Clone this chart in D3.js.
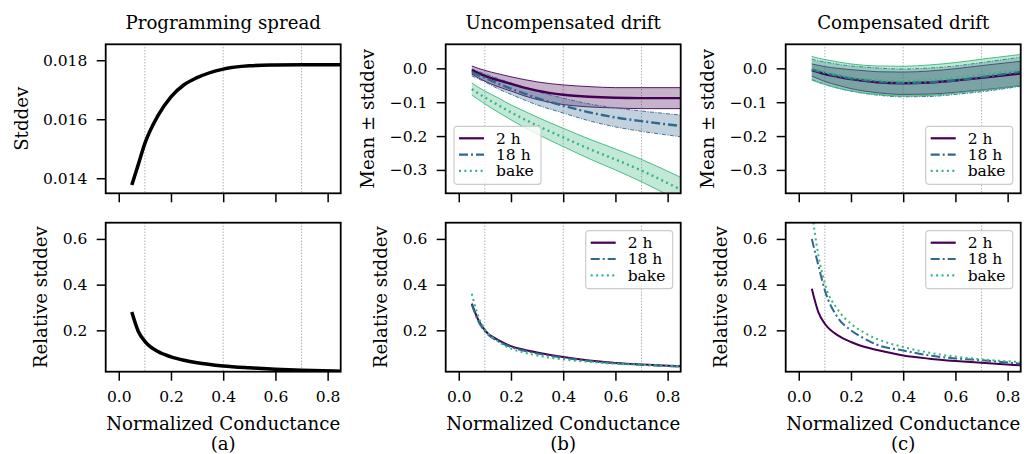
<!DOCTYPE html>
<html>
<head>
<meta charset="utf-8">
<script src="https://cdn.jsdelivr.net/npm/d3@7"></script>
<style>
  body { margin: 0; background: #fff; }
</style>
</head>
<body>
<div id="chart"></div>
<script>
// conductance sample points shared by every curve
const xs = [0.05, 0.075, 0.1, 0.15, 0.2, 0.25, 0.3, 0.4, 0.5, 0.6, 0.7, 0.85];

// (a) programming spread
const progStd = [0.01377, 0.01447, 0.01518, 0.01612, 0.01676, 0.01717, 0.01741, 0.01770, 0.01781, 0.01784, 0.01785, 0.01785];
const progRel = [0.280, 0.195, 0.152, 0.107, 0.084, 0.069, 0.058, 0.044, 0.036, 0.030, 0.0255, 0.021];

// (b) uncompensated drift, mean and stddev
const uncMean2h   = [-0.005, -0.014, -0.022, -0.035, -0.046, -0.057, -0.066, -0.078, -0.084, -0.087, -0.088, -0.088];
const uncStd2h    = [0.012, 0.014, 0.016, 0.019, 0.021, 0.024, 0.026, 0.029, 0.030, 0.030, 0.031, 0.031];
const uncMean18h  = [-0.012, -0.020, -0.028, -0.045, -0.060, -0.074, -0.088, -0.110, -0.130, -0.145, -0.156, -0.170];
const uncStd18h   = [0.010, 0.011, 0.012, 0.015, 0.017, 0.019, 0.020, 0.022, 0.025, 0.028, 0.030, 0.032];
const uncMeanBake = [-0.061, -0.074, -0.086, -0.108, -0.130, -0.150, -0.169, -0.204, -0.238, -0.269, -0.302, -0.358];
const uncStdBake  = [0.018, 0.018, 0.019, 0.021, 0.022, 0.024, 0.025, 0.027, 0.029, 0.031, 0.033, 0.036];
const uncRel2h    = [0.317, 0.245, 0.200, 0.158, 0.131, 0.115, 0.103, 0.083, 0.068, 0.057, 0.050, 0.043];
const uncRel18h   = [0.312, 0.240, 0.196, 0.153, 0.127, 0.111, 0.099, 0.080, 0.066, 0.056, 0.049, 0.041];
const uncRelBake  = [0.360, 0.260, 0.205, 0.152, 0.120, 0.103, 0.090, 0.073, 0.062, 0.054, 0.049, 0.044];

// (c) compensated drift
const cmpMean2h   = [-0.005, -0.011, -0.017, -0.025, -0.032, -0.037, -0.041, -0.044, -0.042, -0.036, -0.028, -0.015];
const cmpStd2h    = [0.018, 0.020, 0.022, 0.025, 0.028, 0.030, 0.031, 0.033, 0.034, 0.035, 0.036, 0.036];
const cmpMean18h  = [-0.003, -0.009, -0.014, -0.023, -0.030, -0.035, -0.039, -0.043, -0.041, -0.035, -0.026, -0.010];
const cmpStd18h   = [0.030, 0.031, 0.033, 0.035, 0.037, 0.039, 0.040, 0.041, 0.042, 0.042, 0.043, 0.043];
const cmpMeanBake = [0.000, -0.006, -0.011, -0.020, -0.027, -0.032, -0.035, -0.038, -0.035, -0.028, -0.019, -0.005];
const cmpStdBake  = [0.035, 0.036, 0.037, 0.039, 0.040, 0.041, 0.042, 0.044, 0.045, 0.045, 0.046, 0.046];
const cmpRel2h    = [0.382, 0.280, 0.229, 0.178, 0.149, 0.128, 0.114, 0.090, 0.076, 0.066, 0.058, 0.047];
const cmpRel18h   = [0.600, 0.485, 0.375, 0.255, 0.200, 0.165, 0.137, 0.112, 0.090, 0.077, 0.069, 0.054];
const cmpRelBake  = [0.720, 0.530, 0.404, 0.290, 0.229, 0.190, 0.162, 0.127, 0.102, 0.085, 0.073, 0.061];

const seriesNames = ['2 h', '18 h', 'bake'];
const seriesColors = ['#440154', '#31688e', '#35b779'];
const seriesDash = [null, '9,3,2,3', '2,3.4'];

const titles = ['Programming spread', 'Uncompensated drift', 'Compensated drift'];
const panelTags = ['(a)', '(b)', '(c)'];
const xTicks = [0.0, 0.2, 0.4, 0.6, 0.8];
const gridX = [0.1, 0.4, 0.7];
const stdTicks = [0.014, 0.016, 0.018];
const meanTicks = [0.0, -0.1, -0.2, -0.3];
const relTicks = [0.2, 0.4, 0.6];

const W = 1036, H = 454;
const lefts = [105.7, 445.7, 785.7];
const pw = 235;
const rows = [[44.3, 193.3], [222.7, 371.7]];
const FONT = 'DejaVu Serif';
const tickFs = 15.5, labelFs = 18.2;

const svg = d3.select('#chart').append('svg')
  .attr('width', W).attr('height', H)
  .attr('font-family', FONT);

const x = d3.scaleLinear().domain([-0.05, 0.85]);

function addText(px, py, str, size, anchor) {
  return svg.append('text').attr('x', px).attr('y', py).attr('dy', '0.35em')
    .attr('text-anchor', anchor || 'middle').attr('font-family', FONT)
    .attr('font-size', size).attr('fill', '#000').text(str);
}

function makeAxes(col, row, ydom, yticks, yfmt, ylabel, ylabelX) {
  const [top, bottom] = rows[row];
  const left = lefts[col];
  const xs_ = x.copy().range([left, left + pw]);
  const y = d3.scaleLinear().domain(ydom).range([bottom, top]);
  const g = svg.append('g');
  const id = 'clip' + col + row;
  svg.append('clipPath').attr('id', id)
    .append('rect').attr('x', left).attr('y', top).attr('width', pw).attr('height', bottom - top);

  // dotted guide lines
  g.selectAll('.grid').data(gridX).enter().append('line')
    .attr('x1', d => xs_(d)).attr('x2', d => xs_(d))
    .attr('y1', top).attr('y2', bottom)
    .attr('stroke', '#808080').attr('stroke-width', 0.9)
    .attr('stroke-dasharray', '1,2');

  const plot = g.append('g').attr('clip-path', `url(#${id})`);

  const xAxis = d3.axisBottom(xs_).tickValues(xTicks).tickSize(9).tickPadding(10)
    .tickFormat(row === 1 ? d3.format('.1f') : '');
  const ax = g.append('g').attr('transform', `translate(0,${bottom})`).call(xAxis);
  const yAxis = d3.axisLeft(y).tickValues(yticks).tickSize(9).tickPadding(9.4).tickFormat(yfmt);
  const ay = g.append('g').attr('transform', `translate(${left},0)`).call(yAxis);
  [ax, ay].forEach(a => {
    a.attr('font-family', FONT).attr('font-size', tickFs);
    a.select('.domain').remove();
    a.selectAll('line').attr('stroke', '#000').attr('stroke-width', 1.5);
    a.selectAll('text').attr('font-size', tickFs).attr('fill', '#000').attr('font-family', FONT);
  });

  g.append('rect').attr('x', left).attr('y', top).attr('width', pw).attr('height', bottom - top)
    .attr('fill', 'none').attr('stroke', '#000').attr('stroke-width', 1.8);

  addText(0, 0, ylabel, labelFs)
    .attr('x', null).attr('y', null)
    .attr('transform', `translate(${ylabelX},${(top + bottom) / 2}) rotate(-90)`);

  return { x: xs_, y, plot, left, top, bottom };
}

function drawLine(ax, vals, color, dash, width) {
  const line = d3.line().x((d, i) => ax.x(xs[i])).y(d => ax.y(d)).curve(d3.curveMonotoneX);
  ax.plot.append('path').datum(vals).attr('d', line)
    .attr('fill', 'none').attr('stroke', color).attr('stroke-width', width)
    .attr('stroke-dasharray', dash);
}

function drawBand(ax, mean, std, color, dash) {
  const area = d3.area().x((d, i) => ax.x(xs[i]))
    .y0((d, i) => ax.y(mean[i] - std[i])).y1((d, i) => ax.y(mean[i] + std[i]))
    .curve(d3.curveMonotoneX);
  ax.plot.append('path').datum(mean).attr('d', area)
    .attr('fill', color).attr('fill-opacity', 0.3).attr('stroke', 'none');
  const edgeDash = dash ? (dash === '2,3.4' ? null : '4,1.5,1,1.5') : null;
  [1, -1].forEach(s => {
    drawLine(ax, mean.map((m, i) => m + s * std[i]), color, edgeDash, 0.9);
  });
}

function drawLegend(ax, corner) {
  const lw = 87, lh = 58;
  const right = ax.left + pw;
  let lx, ly;
  if (corner === 'lower left') { lx = ax.left + 8.3; ly = ax.bottom - 9 - lh; }
  else if (corner === 'lower right') { lx = right - 8 - lw; ly = ax.bottom - 9 - lh; }
  else { lx = right - 8 - lw; ly = ax.top + 8; }
  const lg = svg.append('g').attr('transform', `translate(${lx},${ly})`);
  lg.append('rect').attr('width', lw).attr('height', lh).attr('rx', 3)
    .attr('fill', '#fff').attr('fill-opacity', 0.8)
    .attr('stroke', '#cccccc').attr('stroke-width', 1.2);
  seriesNames.forEach((n, i) => {
    const yy = 12 + i * 16.3;
    lg.append('line').attr('x1', 5).attr('x2', 30).attr('y1', yy).attr('y2', yy)
      .attr('stroke', seriesColors[i]).attr('stroke-width', 2.2)
      .attr('stroke-dasharray', seriesDash[i]);
    lg.append('text').attr('x', 42).attr('y', yy).attr('dy', '0.35em')
      .attr('font-family', FONT).attr('font-size', tickFs).text(n);
  });
}

const fmt3 = d3.format('.3f');
const fmt1 = d3.format('.1f');

// column (a)
const a1 = makeAxes(0, 0, [0.01349, 0.01854], stdTicks, fmt3, 'Stddev', 22);
drawLine(a1, progStd, '#000', null, 3.5);
const a2 = makeAxes(0, 1, [0.019, 0.671], relTicks, fmt1, 'Relative stddev', 41);
drawLine(a2, progRel, '#000', null, 3.5);

// column (b)
const b1 = makeAxes(1, 0, [-0.369, 0.071], meanTicks, fmt1, 'Mean \u00b1 stddev', 368);
drawBand(b1, uncMean2h, uncStd2h, seriesColors[0], seriesDash[0]);
drawBand(b1, uncMean18h, uncStd18h, seriesColors[1], seriesDash[1]);
drawBand(b1, uncMeanBake, uncStdBake, seriesColors[2], seriesDash[2]);
drawLine(b1, uncMean2h, seriesColors[0], seriesDash[0], 2.4);
drawLine(b1, uncMean18h, seriesColors[1], seriesDash[1], 2.4);
drawLine(b1, uncMeanBake, seriesColors[2], seriesDash[2], 2.4);
drawLegend(b1, 'lower left');
const b2 = makeAxes(1, 1, [0.019, 0.671], relTicks, fmt1, 'Relative stddev', 381);
[uncRel2h, uncRel18h, uncRelBake].forEach((s, i) => drawLine(b2, s, seriesColors[i], seriesDash[i], 2));
drawLegend(b2, 'upper right');

// column (c)
const c1 = makeAxes(2, 0, [-0.369, 0.071], meanTicks, fmt1, 'Mean \u00b1 stddev', 708);
drawBand(c1, cmpMean2h, cmpStd2h, seriesColors[0], seriesDash[0]);
drawBand(c1, cmpMean18h, cmpStd18h, seriesColors[1], seriesDash[1]);
drawBand(c1, cmpMeanBake, cmpStdBake, seriesColors[2], seriesDash[2]);
drawLine(c1, cmpMean2h, seriesColors[0], seriesDash[0], 2.4);
drawLine(c1, cmpMean18h, seriesColors[1], seriesDash[1], 2.4);
drawLine(c1, cmpMeanBake, seriesColors[2], seriesDash[2], 2.4);
drawLegend(c1, 'lower right');
const c2 = makeAxes(2, 1, [0.019, 0.671], relTicks, fmt1, 'Relative stddev', 721);
[cmpRel2h, cmpRel18h, cmpRelBake].forEach((s, i) => drawLine(c2, s, seriesColors[i], seriesDash[i], 2));
drawLegend(c2, 'upper right');

// titles and x labels
lefts.forEach((l, i) => {
  addText(l + pw / 2, 23, titles[i], labelFs);
  addText(l + pw / 2, 424, 'Normalized Conductance', labelFs);
  addText(l + pw / 2, 444, panelTags[i], labelFs);
});
</script>
</body>
</html>
